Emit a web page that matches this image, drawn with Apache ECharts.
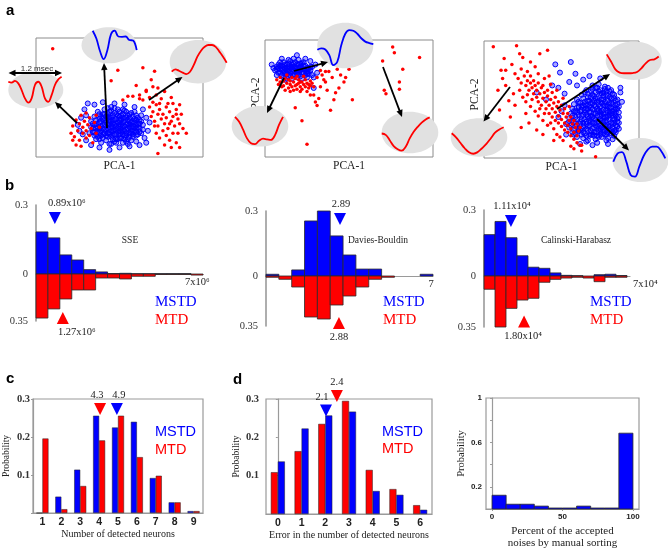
<!DOCTYPE html>
<html><head><meta charset="utf-8">
<script src="https://cdn.jsdelivr.net/npm/echarts@6/dist/echarts.min.js"></script>
<style>html,body{margin:0;padding:0;background:#fff}#c{width:668px;height:550px}</style>
</head><body><div id="c"></div>
<script>
// ---------- DATA ----------
// Panel a: PCA scatter points (normalised 0-100 in each frame)
const pca1Blue=[[32,20],[34,24],[35,18],[36,28],[37,22],[38,15],[38,32],[39,26],[40,19],[40,36],[41,23],[42,29],[42,14],[43,33],[43,20],[44,25],[44,38],[45,17],[45,30],[46,22],[46,35],[47,27],[47,13],[48,19],[48,32],[49,24],[49,40],[50,16],[50,29],[51,21],[51,35],[52,26],[52,12],[53,31],[53,18],[54,23],[54,38],[55,28],[55,15],[56,33],[56,20],[57,25],[58,30],[58,17],[59,22],[60,35],[60,27],[61,19],[62,31],[62,24],
[33,30],[35,34],[36,15],[37,38],[39,12],[41,31],[41,40],[43,27],[44,11],[45,42],[46,28],[47,37],[48,23],[49,15],[50,34],[51,27],[52,40],[53,22],[54,13],[55,35],[56,25],[57,37],[57,14],[58,22],[59,32],[60,13],[61,28],[63,20],[64,27],[63,35],
[34,21],[36,24],[38,20],[39,30],[40,27],[42,18],[42,34],[44,21],[44,31],[46,18],[46,25],[48,28],[48,36],[50,22],[50,31],[52,19],[52,33],[54,27],[54,18],[56,30],[57,20],[58,26],[60,24],[60,18],[62,28],
[25,27],[27,33],[28,19],[29,40],[30,14],[31,45],[33,10],[35,44],[38,8],[40,46],[44,6],[47,45],[50,8],[53,44],[56,9],[59,42],[62,10],[64,40],[65,16],[66,33],[67,22],[68,29],[66,12],[30,35],[26,22]];
const pca1BlueCore=[[33,25],[35,21],[35,27],[36,31],[37,17],[37,25],[38,29],[39,22],[39,34],[40,16],[40,24],[40,32],[41,20],[41,27],[41,36],[42,23],[42,31],[43,17],[43,24],[43,36],[44,19],[44,28],[44,34],[45,22],[45,26],[45,33],[45,39],[46,15],[46,31],[47,19],[47,23],[47,31],[47,41],[48,26],[48,15],[49,21],[49,29],[49,35],[50,19],[50,26],[50,38],[51,16],[51,24],[51,31],[52,22],[52,29],[52,36],[53,15],[53,26],[53,39],[54,20],[54,33],[55,24],[55,31],[56,17],[56,27],[56,36],[57,22],[57,29],[58,19],[58,34],[59,25],[59,29],[60,21],[60,31],[61,25],[61,33],[62,21],[36,19],[38,36],[34,28],[39,18],[43,41],[48,12],[55,11],[59,38],[63,30],[64,23],[45,11],[38,24]];
const pca1Red=[[21,20],[22,26],[23,17],[24,31],[25,22],[26,14],[26,28],[27,35],[28,20],[28,25],[29,30],[30,16],[30,22],[31,27],[32,33],[32,18],[33,24],[34,12],[35,29],[36,20],[24,10],[27,9],[38,25],[36,35],[30,37],[22,14],
[62,52],[64,48],[66,55],[68,50],[70,46],[72,52],[73,58],[75,49],[77,55],[79,45],[81,50],[68,42],[70,38],[72,44],[74,40],[76,36],[78,42],[80,38],[82,34],[84,40],[86,44],[87,36],[71,30],[73,26],[75,32],[77,28],[79,24],[81,30],[83,26],[85,20],[86,28],[72,20],[74,16],[76,22],[78,18],[80,14],[82,20],[84,12],[77,10],[81,8],[85,32],[88,24],[69,34],[71,26],[74,45],[78,33],[82,45],[73,36],[80,28],[84,36],
[52,48],[55,51],[58,51],[62,49],[66,56],[69,65],[70,59],[71,72],[49,73],[45,64],[64,75],[73,3],[10,91],[90,20],[86,8],[60,60]];
const pca2Blue=[[6,74],[7,77],[8,72],[8,79],[9,75],[10,70],[10,78],[11,73],[11,81],[12,76],[12,71],[13,79],[13,74],[14,69],[14,77],[15,82],[15,72],[16,75],[16,79],[17,70],[17,77],[18,73],[18,81],[19,76],[19,71],[20,79],[20,74],[21,69],[21,77],[22,72],[22,80],[23,75],[24,70],[24,78],[25,73],[26,76],[26,71],[27,74],[28,70],[9,81],[11,68],[14,83],[17,84],[20,83],[23,81],[7,70],[13,67],[16,67],[19,68],[22,67],[25,68],[28,77],[5,76],[10,84],[12,66],
[24,84],[29,68],[29,59],[30,79],[19,87],[27,82],[31,72],[4,79]];
const pca2BlueCore=[[7,75],[9,72],[9,78],[10,75],[11,77],[12,73],[12,79],[13,71],[13,76],[14,74],[14,80],[15,70],[15,76],[16,73],[16,77],[17,74],[17,80],[18,70],[18,76],[19,73],[19,79],[20,71],[20,76],[21,74],[21,80],[22,75],[23,72],[23,78],[24,74],[25,76],[25,71],[26,73],[27,77],[8,76]];
const pca2Red=[[7,66],[8,62],[9,68],[10,64],[11,61],[12,67],[13,63],[14,59],[14,66],[15,62],[16,68],[16,60],[17,64],[18,61],[18,67],[19,58],[20,63],[20,66],[21,60],[22,64],[22,58],[23,62],[24,66],[24,60],[25,63],[26,59],[27,65],[27,61],[28,63],[29,60],[10,60],[12,57],[15,56],[17,57],[21,56],[25,56],[13,70],[19,69],[23,69],[9,64],[11,65],[15,65],[19,62],[21,64],[26,62],
[33,74],[38,73],[43,75],[50,75],[36,64],[47,64],[41,49],[52,49],[31,44],[39,40],[18,42],[22,31],[25,11],[27,53],[76,94],[77,89],[70,82],[92,85],[82,75],[80,64],[80,58],[71,57],[72,54],[33,60],[37,57],[44,59],[29,53],[31,68],[34,70],[40,68],[45,70],[35,66],[32,50],[42,55],[30,47],[36,73],[48,68]];
const pca3Blue=[[60,18],[64,17],[68,19],[72,16],[76,18],[80,17],[84,19],
[57,22],[61,23],[65,21],[69,23],[73,22],[77,21],[81,23],[85,22],
[55,26],[59,27],[63,25],[67,27],[71,26],[75,25],[79,27],[83,26],[86,27],
[54,30],[58,31],[62,29],[66,31],[70,30],[74,29],[78,31],[82,30],[86,31],
[55,34],[59,35],[63,33],[67,35],[71,34],[75,33],[79,35],[83,34],[87,35],
[56,38],[60,39],[64,37],[68,39],[72,38],[76,37],[80,39],[84,38],[87,39],
[57,42],[61,43],[65,41],[69,43],[73,42],[77,41],[81,43],[85,42],
[58,46],[62,47],[66,45],[70,47],[74,46],[78,45],[82,47],[86,46],
[60,50],[64,51],[68,49],[72,51],[76,50],[80,49],[84,51],
[63,54],[67,55],[71,53],[75,55],[79,54],[83,55],
[66,58],[70,59],[74,57],[78,59],[82,58],[70,62],[74,63],[78,61],
[58,20],[62,24],[66,25],[70,20],[74,24],[78,23],[82,21],[56,28],[60,33],[64,30],[68,32],[72,28],[76,32],[80,28],[84,30],[57,36],[61,37],[65,39],[69,36],[73,40],[77,35],[81,37],[85,36],[59,40],[63,44],[67,42],[71,45],[75,39],[79,44],[83,40],[61,48],[65,48],[69,52],[73,48],[77,53],[81,52],[85,49],[65,56],[69,57],[73,60],[77,56],[81,57],[63,20],[67,15],[71,19],[75,20],[79,15],[83,16],[87,25],
[46,80],[49,73],[59,72],[56,82],[64,67],[40,50],[34,56],[88,56],[87,44],[85,24],[73,13],[66,14],[58,24],[53,29],[50,40],[52,45],[48,60],[55,65],[60,62],[89,48],[88,60],[53,20],[48,35],[62,12],[70,11],[80,12],[44,62],[68,70],[75,68],[52,55]];
const pca3BlueCore=[[59,21],[61,25],[62,31],[63,36],[63,41],[64,22],[64,27],[65,33],[65,46],[66,19],[66,29],[66,37],[66,42],[67,24],[67,49],[68,28],[68,34],[68,44],[69,20],[69,31],[69,39],[69,47],[70,25],[70,35],[70,42],[70,54],[71,22],[71,30],[71,38],[71,49],[72,33],[72,44],[72,56],[73,19],[73,27],[73,36],[73,51],[74,31],[74,41],[74,49],[75,23],[75,28],[75,36],[75,44],[75,58],[76,26],[76,40],[76,47],[77,24],[77,31],[77,38],[77,45],[77,50],[78,20],[78,28],[78,35],[78,48],[79,25],[79,32],[79,41],[79,57],[80,22],[80,36],[80,44],[80,53],[81,27],[81,33],[81,40],[81,47],[82,24],[82,38],[82,43],[82,51],[83,29],[83,36],[83,46],[84,23],[84,33],[84,41],[84,54],[85,28],[85,39],[85,45],[86,34],[86,42],[86,50],[87,30],[62,40],[64,45],[60,28],[61,44],[67,52],[72,60],[76,55],[80,60],[57,32],[58,40],[74,18],[79,20],[83,22]];
const pca3Red=[[22,68],[24,64],[26,70],[27,62],[28,66],[29,58],[30,64],[31,60],[32,55],[33,62],[34,52],[34,58],[35,48],[36,55],[37,60],[37,45],[38,51],[39,56],[40,42],[40,48],[41,53],[42,38],[42,45],[43,50],[44,35],[44,42],[45,47],[46,32],[46,39],[47,44],[48,30],[48,36],[49,41],[50,27],[50,33],[51,38],[52,24],[52,30],[53,35],[54,22],[54,28],[55,32],[56,19],[56,25],[57,29],[58,16],[58,22],[59,26],[60,13],[60,19],[61,23],[62,11],
[20,72],[23,58],[25,52],[27,48],[28,54],[30,44],[31,50],[33,40],[35,36],[36,42],[38,32],[39,38],[41,28],[43,30],[45,25],[47,20],[49,18],[51,15],[30,70],[32,66],[35,64],[38,62],[41,58],[44,56],[46,52],[48,48],[50,45],[52,42],[54,38],[56,35],[58,32],[60,29],[62,26],[39,68],[43,63],[47,58],[51,51],[55,44],[35,72],[28,74],[24,76],[42,70],
[6,95],[21,96],[23,89],[25,86],[36,89],[41,92],[11,75],[14,75],[16,49],[17,35],[10,41],[72,1],[58,8],[63,11],[24,26],[34,24],[14,62],[19,55],[12,68],[18,80],[30,82],[33,78],[20,45],[27,38],[13,85],[9,58],[63,6],[56,10],[45,15],[38,20],[29,30]];

// Panel a: mean waveforms in the insets
const wave1L=[0.81,0.78,0.84,0.75,0.5,0.19,0.03,0.19,0.69,0.81,0.63,0.19,0.06,0.31,0.69,0.9,1.0];
const wave1T=[1.0,0.73,0.29,0.02,0.33,0.88,1.0,0.8,0.79,0.8,0.68,0.66,0.33];
const wave1R=[0.11,0.19,0.14,0.08,0.03,0.11,0.33,0.61,0.81,0.94,1.0,1.0,0.94,0.78,0.61,0.41];
const wave2T=[0.45,0.49,0.46,0.31,0.04,0.13,0.58,0.88,0.98,0.96,0.88,0.76,0.67,0.63,0.6];
const wave2L=[0.94,0.78,0.52,0.22,0.06,0.03,0.14,0.21,0.19,0.17,0.33,0.67,0.94];
const wave2R=[0.52,0.48,0.33,0.16,0.07,0.03,0.14,0.38,0.57,0.71,0.83,0.92,0.98];
const wave3T=[0.95,0.62,0.26,0.11,0.08,0.08,0.09,0.14,0.31,0.54,0.69,0.72,0.85];
const wave3L=[0.76,0.61,0.41,0.21,0.06,0.01,0.07,0.21,0.37,0.57,0.78,0.9,0.98];
const wave3B=[0.55,0.8,0.84,0.55,0.15,0.1,0.4,0.72,0.92,1.0,1.0,0.88,0.65];

// Panel b: histograms (bin index units)
const sseBlue=[0.183,0.157,0.083,0.061,0.019,0.009,0.002,0.003,0.001,0.001,0.001,0.001,0.001,0];
const sseRed=[0.328,0.26,0.186,0.119,0.119,0.03,0.03,0.037,0.017,0.017,0.003,0.002,0.002,0.008];
const dbBlue=[0.008,0,0.028,0.254,0.3,0.185,0.097,0.032,0.032,0,0,0,0.008];
const dbRed=[0.009,0.023,0.077,0.287,0.301,0.203,0.14,0.077,0.023,0.009,0,0,0];
const chBlue=[0.188,0.248,0.174,0.092,0.04,0.035,0.014,0.003,0.001,0,0.006,0.008,0.002];
const chRed=[0.091,0.35,0.222,0.165,0.153,0.043,0.023,0.014,0.009,0.014,0.039,0.009,0.009];
const sseMarks=[[1.58,0.243,'0.89x10⁶'],[2.25,0.328,'1.27x10⁶']];
const dbMarks=[[5.76,0.263,'2.89'],[5.68,0.329,'2.88']];
const chMarks=[[2.45,0.25,'1.11x10⁴'],[3.64,0.312,'1.80x10⁴']];

// Panel c
const cCats=['1','2','3','4','5','6','7','8','9'];
const cBlue=[0,0.043,0.114,0.256,0.225,0.24,0.092,0.028,0.005];
const cRed=[0.196,0.01,0.071,0.191,0.256,0.147,0.098,0.028,0.005];
const cMarks=[[4.05,0.274,'4.3'],[4.94,0.274,'4.9']]; // red, blue
// Panel d
const dCats=['0','1','2','3','4','5','6'];
const dRed=[0.109,0.164,0.235,0.295,0.115,0.065,0.023];
const dBlue=[0.137,0.223,0.257,0.267,0.06,0.05,0.011];
const dMarks=[[2.03,0.27,'2.1'],[2.49,0.308,'2.4']]; // blue, red
// Right panel
const noiseEdges=[0,10,20,30,40,50,60,70,80,90,100];
const noiseProb=[0.124,0.043,0.043,0.026,0.009,0.009,0.026,0.009,0.009,0.683];

// ---------- BUILD ----------
const SERIF='"Liberation Serif","Times New Roman",serif';
const SANS='"Liberation Sans",Arial,sans-serif';
const BLUE='#0000ff', RED='#ff0000', GRAY='#9a9a9a';
const grid=[],xAxis=[],yAxis=[],series=[],G=[];
function addGrid(b){grid.push(b);return grid.length-1;}
function hid(gi,extra){return Object.assign({gridIndex:gi,type:'value',axisLine:{show:false},axisTick:{show:false},axisLabel:{show:false},splitLine:{show:false}},extra||{});}
function txt(x,y,text,font,fill,align,va){G.push({type:'text',x:x,y:y,z:20,style:{text:text,font:font,fill:fill||'#222',align:align||'left',verticalAlign:va||'middle'}});}

// --- panel a scatter
const SC=[{b:{left:36,top:38,width:167,height:119},blue:pca1Blue.concat(pca1BlueCore),red:pca1Red,y:''},
 {b:{left:265,top:40,width:168,height:117},blue:pca2Blue.concat(pca2BlueCore),red:pca2Red,y:'PCA-2'},
 {b:{left:484,top:41,width:155,height:117},blue:pca3Blue.concat(pca3BlueCore),red:pca3Red,y:'PCA-2'}];
SC.forEach(s=>{
  const gi=addGrid(Object.assign({show:true,borderColor:'#8c8c8c',borderWidth:1},s.b));
  const xi=xAxis.push(hid(gi,{min:0,max:100,name:'PCA-1',nameLocation:'middle',nameGap:3,nameTextStyle:{fontFamily:SERIF,fontSize:11.5,color:'#222'}}))-1;
  const yi=yAxis.push(hid(gi,{min:0,max:100,name:s.y,nameLocation:'middle',nameGap:3,nameTextStyle:{fontFamily:SERIF,fontSize:11.5,color:'#222',padding:[0,0,0,10]}}))-1;
  series.push({type:'scatter',xAxisIndex:xi,yAxisIndex:yi,data:s.blue,symbol:'circle',symbolSize:5,itemStyle:{color:'rgba(0,0,255,0.35)',borderColor:BLUE,borderWidth:1,opacity:1},silent:true,z:2});
  series.push({type:'scatter',xAxisIndex:xi,yAxisIndex:yi,data:s.red,symbol:'circle',symbolSize:3.5,itemStyle:{color:RED,opacity:1},silent:true,z:3});
});
// insets
const WAVES=[
 {e:[35.8,90,27.5,18.3],b:[8.3,76.7,53.3,26.7],c:RED,v:wave1L},
 {e:[109,45.3,27.5,18],b:[92.7,30.7,44,29],c:BLUE,v:wave1T},
 {e:[198,61.7,28.3,21.7],b:[171.7,45,55,30],c:RED,v:wave1R},
 {e:[345.3,45.5,28,22.8],b:[317.3,29.3,56,37.3],c:BLUE,v:wave2T},
 {e:[260,126.3,28.3,20.3],b:[235,115,48,30],c:RED,v:wave2L},
 {e:[410,132.5,28.3,20.8],b:[381.7,116.7,48,35],c:RED,v:wave2R},
 {e:[633.7,60.8,28,19.2],b:[606.7,53.3,52,21.7],c:RED,v:wave3T},
 {e:[479,137.5,28.3,19.2],b:[451.7,126.7,52,27.3],c:RED,v:wave3L},
 {e:[640.5,160,28,22],b:[613.3,146.7,52,33.3],c:BLUE,v:wave3B}];
WAVES.forEach(w=>{
  G.push({type:'ellipse',z:5,shape:{cx:w.e[0],cy:w.e[1],rx:w.e[2],ry:w.e[3]},style:{fill:'#e1e1e1'}});
  const gi=addGrid({left:w.b[0],top:w.b[1],width:w.b[2],height:w.b[3]});
  const xi=xAxis.push(hid(gi,{min:0,max:w.v.length-1}))-1;
  const yi=yAxis.push(hid(gi,{min:0,max:1}))-1;
  series.push({type:'line',xAxisIndex:xi,yAxisIndex:yi,data:w.v.map((v,i)=>[i,v]),smooth:0.4,showSymbol:false,clip:false,lineStyle:{color:w.c,width:1.8},silent:true,z:6});
});
function arrow(x1,y1,x2,y2,both){
  const a=Math.atan2(y2-y1,x2-x1),L=7,W=3.2,c=Math.cos(a),s=Math.sin(a);
  const head=(x,y,cc,ss)=>({type:'polygon',z:8,shape:{points:[[x,y],[x-L*cc+W*ss,y-L*ss-W*cc],[x-L*cc-W*ss,y-L*ss+W*cc]]},style:{fill:'#000'}});
  G.push({type:'line',z:8,shape:{x1:both?x1+5*c:x1,y1:both?y1+5*s:y1,x2:x2-5*c,y2:y2-5*s},style:{stroke:'#000',lineWidth:1.8}});
  G.push(head(x2,y2,c,s));
  if(both)G.push(head(x1,y1,-c,-s));
}
[[77,123,55,102],[107,128,104,63],[149,100,182.5,77],[294,71,328,62],[284,78,267,113],[383,67,402,117],[557,109,610,74],[510,87,483.5,121.5],[597,119,629,150.5]].forEach(a=>arrow(a[0],a[1],a[2],a[3]));
arrow(8.5,73,62,73,true);
txt(37,68.5,'1.2 msec','8px '+SANS,'#333','center');

// --- panel b histograms
function histSeries(xi,yi,data,color){
  return {type:'custom',xAxisIndex:xi,yAxisIndex:yi,data:data,encode:{x:[0,1],y:2},silent:true,z:3,clip:false,
    renderItem:(p,api)=>{const v=api.value(2);if(!v)return {type:'group',children:[]};
      const a=api.coord([api.value(0),0]),b=api.coord([api.value(1),v]);
      return {type:'rect',shape:{x:a[0],y:Math.min(a[1],b[1]),width:b[0]-a[0],height:Math.abs(b[1]-a[1])},style:{fill:color,stroke:'#2a2a2a',lineWidth:0.8}};}};
}
const HIST=[
 {left:36,width:167,zero:274,tH:69,bH:47,xmax:14,blue:sseBlue,red:sseRed,m:sseMarks,off:[12,14],title:'SSE',tx:130,mx:155,end:['7x10⁶',185,'left']},
 {left:266,width:167,zero:276,tH:65,bH:50,xmax:13,blue:dbBlue,red:dbRed,m:dbMarks,off:[1,0],title:'Davies-Bouldin',tx:378,mx:383,end:['7',431,'center']},
 {left:484,width:146,zero:276,tH:66,bH:51,xmax:13.27,blue:chBlue,red:chRed,m:chMarks,off:[1,-1],title:'Calinski-Harabasz',tx:576,mx:590,end:['7x10⁴',633,'left']}];
HIST.forEach(h=>{
  const lab={fontFamily:SERIF,fontSize:10.5,color:'#333',margin:8};
  const gT=addGrid({left:h.left,top:h.zero-h.tH,width:h.width,height:h.tH});
  const xT=xAxis.push({gridIndex:gT,type:'value',min:0,max:h.xmax,axisLine:{show:true,lineStyle:{color:GRAY,width:1.2}},axisTick:{show:false},axisLabel:{show:false},splitLine:{show:false}})-1;
  const yT=yAxis.push({gridIndex:gT,type:'value',min:0,max:0.3,interval:0.3,axisLine:{show:true,lineStyle:{color:GRAY,width:1.6}},axisTick:{show:false},splitLine:{show:false},axisLabel:Object.assign({formatter:v=>String(+v.toFixed(2))},lab)})-1;
  const gB=addGrid({left:h.left,top:h.zero,width:h.width,height:h.bH});
  const xB=xAxis.push(hid(gB,{min:0,max:h.xmax}))-1;
  const yB=yAxis.push({gridIndex:gB,type:'value',inverse:true,min:0,max:0.35,interval:0.35,axisLine:{show:true,lineStyle:{color:GRAY,width:1.6}},axisTick:{show:false},splitLine:{show:false},axisLabel:Object.assign({formatter:v=>v>0?String(+v.toFixed(2)):''},lab)})-1;
  series.push(histSeries(xT,yT,h.blue.map((v,i)=>[i,i+1,v]),BLUE));
  series.push(histSeries(xB,yB,h.red.map((v,i)=>[i,i+1,v]),RED));
  const ml={show:true,fontFamily:SERIF,fontSize:10.5,color:'#222',distance:3};
  series.push({type:'scatter',xAxisIndex:xT,yAxisIndex:yT,data:[[h.m[0][0],h.m[0][1]]],symbol:'triangle',symbolRotate:180,symbolSize:[12,12],itemStyle:{color:BLUE,opacity:1},clip:false,silent:true,z:6,
    label:Object.assign({formatter:h.m[0][2],position:'top',offset:[h.off[0],0]},ml)});
  series.push({type:'scatter',xAxisIndex:xB,yAxisIndex:yB,data:[[h.m[1][0],h.m[1][1]]],symbol:'triangle',symbolSize:[12,12],itemStyle:{color:RED,opacity:1},clip:false,silent:true,z:6,
    label:Object.assign({formatter:h.m[1][2],position:'bottom',offset:[h.off[1],0]},ml)});
  txt(h.tx,240,h.title,'9.5px '+SERIF,'#222','center');
  txt(h.end[1],h.zero+8,h.end[0],'10.5px '+SERIF,'#222',h.end[2]);
  txt(h.mx,302,'MSTD','15px '+SERIF,BLUE);
  txt(h.mx,320,'MTD','15px '+SERIF,RED);
});

// --- panels c and d
function barPanel(b,cats,s1,s2,marks,xname,yMargin,bw,mk){
  const gi=addGrid(Object.assign({show:true,borderColor:GRAY,borderWidth:1.2},b));
  const xi=xAxis.push({gridIndex:gi,type:'category',data:cats,axisLine:{lineStyle:{color:GRAY,width:1.2}},axisTick:{show:false},
    axisLabel:{fontFamily:SANS,fontWeight:'bold',fontSize:10.5,color:'#222',margin:4},
    name:xname,nameLocation:'middle',nameGap:15,nameTextStyle:{fontFamily:SERIF,fontSize:10,color:'#222'}})-1;
  const x2=xAxis.push(hid(gi,{min:-0.5+mk,max:cats.length-0.5+mk}))-1;
  const yi=yAxis.push({gridIndex:gi,type:'value',min:0,max:0.3,interval:0.1,axisLine:{show:true,lineStyle:{color:GRAY,width:1.2}},axisTick:{show:true,length:2,lineStyle:{color:GRAY}},splitLine:{show:false},
    axisLabel:{fontFamily:SERIF,fontWeight:'bold',fontSize:10.5,color:'#333',margin:yMargin,formatter:v=>v>0?(+v).toFixed(1):''},
    name:'Probability',nameLocation:'middle',nameGap:b.left===33?22:24,nameTextStyle:{fontFamily:SERIF,fontSize:9.5,color:'#222'}})-1;
  [s1,s2].forEach(s=>series.push({type:'bar',xAxisIndex:xi,yAxisIndex:yi,data:s.d,barWidth:bw,barGap:'0%',itemStyle:{color:s.c,borderColor:'#222',borderWidth:0.5},silent:true,z:3}));
  marks.forEach(m=>series.push({type:'scatter',xAxisIndex:x2,yAxisIndex:yi,data:[[m[0],m[1]]],symbol:'triangle',symbolRotate:180,symbolSize:[12,12],itemStyle:{color:m[3],opacity:1},clip:false,silent:true,z:6,
    label:{show:true,formatter:m[2],position:'top',distance:2,offset:[m[4],0],fontFamily:SERIF,fontSize:10.5,color:'#222'}}));
}
barPanel({left:33,top:399,width:170,height:114},cCats,{d:cBlue,c:BLUE},{d:cRed,c:RED},
  [[cMarks[0][0],cMarks[0][1],cMarks[0][2],RED,-3],[cMarks[1][0],cMarks[1][1],cMarks[1][2],BLUE,2]],'Number of detected neurons',3,6,1);
barPanel({left:266,top:399,width:166,height:115},dCats,{d:dRed,c:RED},{d:dBlue,c:BLUE},
  [[dMarks[0][0],dMarks[0][1],dMarks[0][2],BLUE,-4],[dMarks[1][0],dMarks[1][1],dMarks[1][2],RED,0]],'Error in the number of detected neurons',7,7,0);
txt(155,432,'MSTD','14.5px '+SANS,BLUE); txt(155,450,'MTD','14.5px '+SANS,RED);
txt(382,432,'MSTD','14.5px '+SANS,BLUE); txt(382,449,'MTD','14.5px '+SANS,RED);

// --- right panel
(function(){
  const gi=addGrid({left:486,top:398,width:153,height:115,show:true,borderColor:GRAY,borderWidth:1.2});
  const xi=xAxis.push({gridIndex:gi,type:'value',min:-4.3,max:104.3,axisLine:{lineStyle:{color:GRAY,width:1.2}},axisTick:{show:true,length:2,customValues:[0,50,100],lineStyle:{color:GRAY}},splitLine:{show:false},
    axisLabel:{customValues:[0,50,100],fontFamily:SANS,fontWeight:'bold',fontSize:8,color:'#222',margin:4},
    name:'Percent of the accepted\nnoises by manual sorting',nameLocation:'middle',nameGap:16,nameTextStyle:{fontFamily:SERIF,fontSize:11,lineHeight:12,color:'#222',verticalAlign:'top'}})-1;
  const yi=yAxis.push({gridIndex:gi,type:'value',min:0,max:1,interval:0.2,axisLine:{show:true,lineStyle:{color:GRAY,width:1.2}},axisTick:{show:true,length:2,lineStyle:{color:GRAY}},splitLine:{show:false},
    axisLabel:{fontFamily:SANS,fontWeight:'bold',fontSize:8,color:'#222',margin:4,formatter:v=>{const r=+(+v).toFixed(1);return (r===0.2||r===0.6||r===1)?String(r):'';}},
    name:'Probability',nameLocation:'middle',nameGap:19,nameTextStyle:{fontFamily:SERIF,fontSize:10.5,color:'#222'}})-1;
  series.push(histSeries(xi,yi,noiseProb.map((v,i)=>[noiseEdges[i],noiseEdges[i+1],v]),BLUE));
})();

// panel letters
txt(6,3,'a','bold 15px '+SANS,'#000','left','top');
txt(5,178,'b','bold 15px '+SANS,'#000','left','top');
txt(6,371,'c','bold 15px '+SANS,'#000','left','top');
txt(233,372,'d','bold 15px '+SANS,'#000','left','top');

const chart=echarts.init(document.getElementById('c'),null,{renderer:'canvas'});
chart.setOption({animation:false,backgroundColor:'#fff',grid:grid,xAxis:xAxis,yAxis:yAxis,series:series,graphic:{elements:G}});
</script></body></html>
